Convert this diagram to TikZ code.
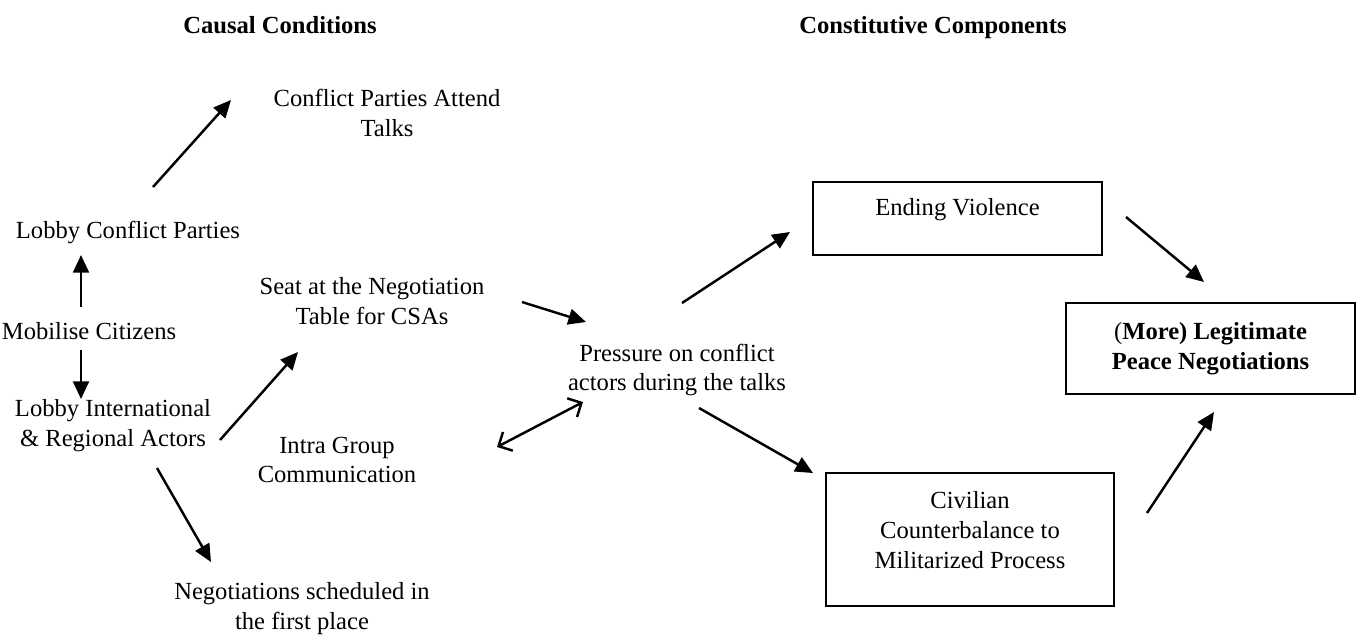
\documentclass[tikz,border=0pt]{standalone}
\usepackage{fontspec}
\setmainfont{Liberation Serif}
\usetikzlibrary{arrows.meta}
\begin{document}
\begin{tikzpicture}[x=0.02cm, y=-0.02cm,
  every node/.style={font=\fontsize{14}{17}\selectfont, align=center, inner sep=0pt},
  title/.style={font=\fontsize{14}{17}\selectfont\bfseries, anchor=base},
  boxnode/.style={draw, line width=1.1pt},
  flow/.style={line width=1.4pt, -{Triangle[length=10pt, width=9pt]}},
  mutual/.style={line width=1.4pt, {Straight Barb[length=6pt, width=12pt]}-{Straight Barb[length=6pt, width=12pt]}}]
\useasboundingbox (0,0) rectangle (1359,637);

% column headings
\node[title] (hcause) at (280,33) {Causal Conditions};
\node[title] (hcons) at (933,33) {Constitutive Components};

% causal conditions
\node (attend) at (387,113) {Conflict Parties Attend\\Talks};
\node (lobbycp) at (128,232) {Lobby Conflict Parties};
\node (mobilise) at (89,331) {Mobilise Citizens};
\node (lobbyint) at (113,426) {Lobby International\\\& Regional Actors};
\node (seat) at (372,301) {Seat at the Negotiation\\Table for CSAs};
\node (intra) at (337,460) {Intra Group\\Communication};
\node (sched) at (302,609) {Negotiations scheduled in\\the first place};
\node (pressure) at (677,370) {Pressure on conflict\\actors during the talks};

% constitutive components
\node[boxnode, minimum width=5.78cm, minimum height=1.46cm] (ending) at (957.5,218.5) {Ending Violence\\[-4pt]~};
\node[boxnode, minimum width=5.76cm, minimum height=2.66cm] (civil) at (970,539.5) {Civilian\\Counterbalance to\\Militarized Process\\[-6pt]~};
\node[boxnode, minimum width=5.78cm, minimum height=1.82cm] (legit) at (1210.5,348.5) {({\bfseries More) Legitimate}\\{\bfseries Peace Negotiations}};

% connector end points, set apart from the texts they link
\coordinate (a1s) at (153,187);  \coordinate (a1e) at (231,100);
\coordinate (a2s) at (81,307);   \coordinate (a2e) at (81,255);
\coordinate (a3s) at (81,350);   \coordinate (a3e) at (81,399);
\coordinate (a4s) at (220,440);  \coordinate (a4e) at (298,352);
\coordinate (a5s) at (157,468);  \coordinate (a5e) at (211,562);
\coordinate (a6s) at (522,302);  \coordinate (a6e) at (586,322);
\coordinate (a7s) at (497,447);  \coordinate (a7e) at (583,402);
\coordinate (a8s) at (682,303);  \coordinate (a8e) at (790,232);
\coordinate (a9s) at (699,408);  \coordinate (a9e) at (813,473);
\coordinate (a10s) at (1126,217); \coordinate (a10e) at (1204,282);
\coordinate (a11s) at (1147,513); \coordinate (a11e) at (1214,412);

\draw[flow] (a1s) -- (a1e);
\draw[flow] (a2s) -- (a2e);
\draw[flow] (a3s) -- (a3e);
\draw[flow] (a4s) -- (a4e);
\draw[flow] (a5s) -- (a5e);
\draw[flow] (a6s) -- (a6e);
\draw[mutual] (a7s) -- (a7e);
\draw[flow] (a8s) -- (a8e);
\draw[flow] (a9s) -- (a9e);
\draw[flow] (a10s) -- (a10e);
\draw[flow] (a11s) -- (a11e);
\end{tikzpicture}
\end{document}
